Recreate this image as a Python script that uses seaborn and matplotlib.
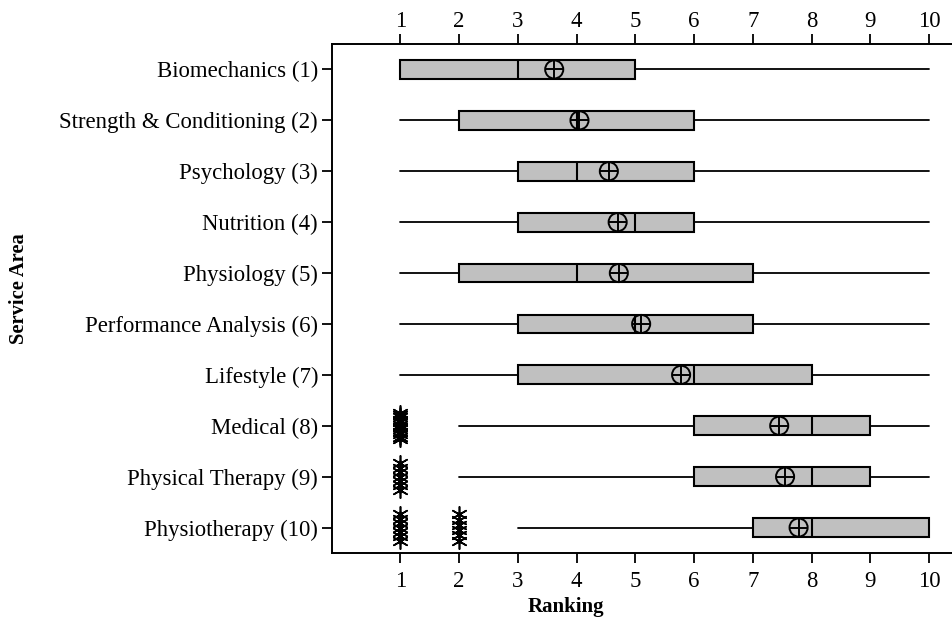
import numpy as np
import pandas as pd
import matplotlib
matplotlib.use("Agg")
import matplotlib.pyplot as plt
import matplotlib.transforms as mtransforms
import seaborn as sns

categories = ["Biomechanics (1)", "Strength & Conditioning (2)", "Psychology (3)",
              "Nutrition (4)", "Physiology (5)", "Performance Analysis (6)",
              "Lifestyle (7)", "Medical (8)", "Physical Therapy (9)", "Physiotherapy (10)"]
whisker_low = [1, 1, 1, 1, 1, 1, 1, 2, 2, 3]
q1 = [1, 2, 3, 3, 2, 3, 3, 6, 6, 7]
median = [3, 4, 4, 5, 4, 5, 6, 8, 8, 8]
q3 = [5, 6, 6, 6, 7, 7, 8, 9, 9, 10]
whisker_high = [10, 10, 10, 10, 10, 10, 10, 10, 10, 10]
means = [3.62, 4.05, 4.55, 4.70, 4.72, 5.10, 5.78, 7.45, 7.55, 7.78]
# outliers: (category index, value, count)
outlier_cat = [7, 8, 9, 9]
outlier_val = [1, 1, 1, 2]
outlier_cnt = [12, 7, 7, 6]
xticks = [1, 2, 3, 4, 5, 6, 7, 8, 9, 10]

sns.set_style("ticks")
plt.rcParams['font.family'] = ['Liberation Serif', 'DejaVu Serif']
plt.rcParams['font.size'] = 12
plt.rcParams['text.color'] = 'black'
plt.rcParams['axes.labelcolor'] = 'black'

fig = plt.figure(figsize=(9.52, 6.23), dpi=100)
ax = fig.add_axes([332/952, 70/623, 1 - 332/952, (553-44)/623])

stats = []
for i, c in enumerate(categories):
    stats.append(dict(label=c, whislo=whisker_low[i], q1=q1[i], med=median[i],
                      q3=q3[i], whishi=whisker_high[i], fliers=[]))
ax.bxp(stats, positions=np.arange(len(categories)), vert=False, widths=0.37,
       patch_artist=True, showcaps=False, showfliers=False,
       boxprops=dict(facecolor="#c0c0c0", edgecolor="black", linewidth=1.5),
       medianprops=dict(color="black", linewidth=1.5),
       whiskerprops=dict(color="black", linewidth=1.3))

mdf = pd.DataFrame({"cat": np.arange(len(categories)), "mean": means})
sns.scatterplot(data=mdf, x="mean", y="cat", ax=ax, marker="o", s=170,
                facecolor="none", edgecolor="black", linewidth=1.4, zorder=5)
sns.scatterplot(data=mdf, x="mean", y="cat", ax=ax, marker="+", s=170,
                color="black", linewidth=1.4, zorder=5)

rows = []
for ci, v, n in zip(outlier_cat, outlier_val, outlier_cnt):
    for off in np.linspace(-0.26, 0.26, n):
        rows.append({"x": v, "y": ci + off})
odf = pd.DataFrame(rows)
sns.scatterplot(data=odf, x="x", y="y", ax=ax, marker=(6, 2, 0), s=120,
                color="black", linewidth=1.2, zorder=5)

ax.set_xlim(1 - 68.3/58.74, 10 + 23/58.74)
ax.set_ylim(9.5, -0.5)
ax.set_yticks(np.arange(len(categories)))
ax.set_yticklabels(categories)
ax.set_xticks(xticks)
ax.set_xticklabels([str(t) for t in xticks])
ax.tick_params(axis="x", which="both", top=True, labeltop=True, bottom=True,
               labelbottom=True, direction="out", length=7, width=1.3,
               labelsize=16.4, colors="black", pad=4)
ax.tick_params(axis="y", direction="out", length=7, width=1.3, labelsize=16.4,
               colors="black", pad=3)
for s in ["left", "top", "bottom"]:
    ax.spines[s].set_linewidth(1.4)
    ax.spines[s].set_color("black")
ax.spines["right"].set_visible(False)

# small vertical nudges of the x tick labels
down_b = mtransforms.ScaledTranslation(0, -3/100, fig.dpi_scale_trans)
down_t = mtransforms.ScaledTranslation(0, -3/100, fig.dpi_scale_trans)
for tick in ax.xaxis.get_major_ticks():
    tick.label1.set_transform(tick.label1.get_transform() + down_b)
    tick.label2.set_transform(tick.label2.get_transform() + down_t)

ax.set_xlabel("Ranking", fontweight="bold", fontsize=15, color="black")
ax.set_ylabel("Service Area", fontweight="bold", fontsize=14.8, color="black")
ax.xaxis.set_label_coords((566-332)/620, -(597-553)/509)
ax.yaxis.set_label_coords(-(332-29)/620, (553-289)/509)

fig.savefig("out.png", dpi=100)
